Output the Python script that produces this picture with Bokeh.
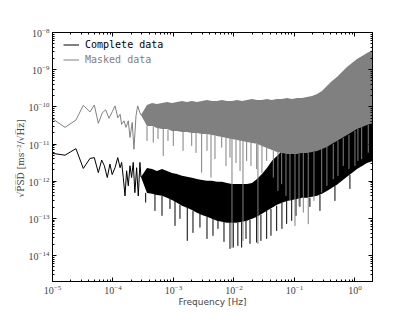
from bokeh.plotting import figure
from bokeh.models import (LogAxis, FixedTicker, Legend, LegendItem)
from bokeh.embed import file_html
from bokeh.resources import INLINE

# ---------------- data ----------------
# sparse low-frequency part, masked data (gray)
f_low_m = [1.0e-5, 1.61e-5, 2.44e-5, 3.23e-5, 4.17e-5, 4.91e-5, 5.72e-5, 6.65e-5,
           7.57e-5, 8.59e-5, 9.73e-5, 1.08e-4, 1.20e-4, 1.31e-4, 1.39e-4, 1.52e-4,
           1.64e-4, 1.79e-4, 1.91e-4, 2.08e-4, 2.22e-4, 2.40e-4, 2.56e-4, 2.79e-4, 2.90e-4]
psd_low_m = [4.8e-11, 2.8e-11, 4.4e-11, 1.1e-10, 7.3e-11, 1.12e-10, 3.6e-11, 6.9e-11,
             8.3e-11, 4.9e-11, 7.4e-11, 1.06e-10, 5.1e-11, 6.3e-11, 3.4e-11, 4.2e-11,
             2.8e-11, 4.2e-11, 1.5e-11, 3.8e-11, 7.2e-12, 5.7e-11, 1.06e-10, 6.9e-11, 6.0e-11]

# sparse low-frequency part, complete data (black)
f_low_c = [1.0e-5, 1.61e-5, 2.44e-5, 3.23e-5, 4.17e-5, 4.91e-5, 5.72e-5, 6.5e-5,
           7.2e-5, 8.05e-5, 8.9e-5, 9.7e-5, 1.08e-4, 1.20e-4, 1.31e-4, 1.39e-4,
           1.48e-4, 1.58e-4, 1.68e-4, 1.79e-4, 1.91e-4, 2.03e-4, 2.16e-4, 2.30e-4,
           2.46e-4, 2.62e-4, 2.79e-4, 2.90e-4]
psd_low_c = [5.6e-12, 5.0e-12, 7.5e-12, 2.2e-12, 4.1e-12, 4.3e-12, 1.7e-12, 3.7e-12,
             2.6e-12, 1.25e-12, 2.9e-12, 1.5e-12, 2.3e-12, 4.3e-12, 2.3e-12, 3.2e-12,
             1.25e-12, 4.0e-13, 1.9e-12, 7.5e-13, 2.6e-12, 1.25e-12, 3.2e-12, 4.9e-13,
             2.3e-12, 4.0e-13, 3.2e-12, 1.3e-12]

# dense part: envelope of the noise band
f_band = [2.90e-4, 3.65e-4, 4.42e-4, 5.33e-4, 6.46e-4, 7.82e-4, 9.45e-4, 1.14e-3,
          1.38e-3, 1.67e-3, 2.02e-3, 2.44e-3, 2.96e-3, 3.58e-3, 4.33e-3, 5.24e-3,
          6.34e-3, 7.66e-3, 9.27e-3, 1.12e-2, 1.36e-2, 1.64e-2, 1.99e-2, 2.40e-2,
          2.90e-2, 3.51e-2, 4.25e-2, 5.14e-2, 6.21e-2, 7.51e-2, 9.09e-2, 0.110,
          0.133, 0.161, 0.195, 0.236, 0.285, 0.344, 0.417, 0.504, 0.609, 0.738,
          0.892, 1.08, 1.31, 1.58, 2.0]
masked_hi = [6.0e-11, 1.12e-10, 1.27e-10, 1.20e-10, 1.27e-10, 1.36e-10, 1.27e-10, 1.36e-10,
             1.44e-10, 1.36e-10, 1.44e-10, 1.36e-10, 1.44e-10, 1.53e-10, 1.44e-10, 1.44e-10,
             1.53e-10, 1.44e-10, 1.44e-10, 1.53e-10, 1.44e-10, 1.53e-10, 1.63e-10, 1.53e-10,
             1.53e-10, 1.63e-10, 1.53e-10, 1.63e-10, 1.63e-10, 1.73e-10, 1.63e-10, 1.73e-10,
             1.73e-10, 1.85e-10, 1.96e-10, 2.22e-10, 2.67e-10, 3.65e-10, 4.97e-10, 6.37e-10,
             8.67e-10, 1.18e-9, 1.51e-9, 1.94e-9, 2.33e-9, 2.81e-9, 3.39e-9]
masked_lo = [6.0e-11, 3.07e-11, 3.07e-11, 2.71e-11, 2.55e-11, 2.55e-11, 2.25e-11, 2.25e-11,
             2.11e-11, 2.11e-11, 1.99e-11, 1.99e-11, 1.87e-11, 1.87e-11, 1.76e-11, 1.65e-11,
             1.55e-11, 1.46e-11, 1.37e-11, 1.29e-11, 1.21e-11, 1.14e-11, 1.07e-11, 1.01e-11,
             8.89e-12, 7.86e-12, 6.94e-12, 6.14e-12, 5.77e-12, 5.42e-12, 5.42e-12, 5.42e-12,
             5.77e-12, 5.77e-12, 6.14e-12, 6.53e-12, 7.38e-12, 8.36e-12, 1.01e-11, 1.21e-11,
             1.46e-11, 1.76e-11, 2.11e-11, 2.55e-11, 2.88e-11, 3.26e-11, 3.69e-11]
complete_hi = [1.3e-12, 2.28e-12, 2.14e-12, 1.89e-12, 2.14e-12, 1.89e-12, 1.67e-12, 1.57e-12,
               1.39e-12, 1.31e-12, 1.23e-12, 1.15e-12, 1.08e-12, 1.02e-12, 1.02e-12, 9.58e-13,
               9.58e-13, 9.0e-13, 8.46e-13, 8.46e-13, 8.46e-13, 8.46e-13, 9.0e-13, 1.15e-12,
               1.57e-12, 2.28e-12, 3.52e-12, 4.79e-12, 6.53e-12, 8.36e-12, 1.01e-11, 1.14e-11,
               1.21e-11, 1.37e-11, 1.55e-11, 1.76e-11, 1.99e-11, 2.25e-11, 2.55e-11, 3.07e-11,
               3.69e-11, 4.45e-11, 5.35e-11, 6.44e-11, 7.76e-11, 9.34e-11, 1.06e-10]
complete_lo = [1.3e-12, 4.84e-13, 4.56e-13, 4.28e-13, 4.03e-13, 3.56e-13, 3.14e-13, 2.61e-13,
               2.17e-13, 1.92e-13, 1.69e-13, 1.41e-13, 1.24e-13, 1.10e-13, 9.70e-14, 8.57e-14,
               8.05e-14, 7.57e-14, 7.57e-14, 7.57e-14, 8.05e-14, 8.57e-14, 9.70e-14, 1.10e-13,
               1.32e-13, 1.59e-13, 1.92e-13, 2.31e-13, 2.61e-13, 2.95e-13, 3.14e-13, 3.34e-13,
               3.56e-13, 3.56e-13, 3.79e-13, 4.03e-13, 4.56e-13, 5.48e-13, 6.61e-13, 7.96e-13,
               1.02e-12, 1.31e-12, 1.67e-12, 2.14e-12, 2.58e-12, 3.10e-12, 3.52e-12]

# individual deep dips reaching below the band
spike_f_m = [3.65e-4, 4.63e-4, 6.77e-4, 9.93e-4, 2.00e-3, 2.92e-3, 4.17e-3, 6.27e-3,
             8.59e-3, 9.27e-3, 1.26e-2, 1.41e-2, 1.62e-2, 2.37e-2, 2.49e-2, 3.47e-2,
             4.47e-2, 6.14e-2, 8.43e-2, 0.102, 0.140, 0.169, 0.282, 0.438, 0.641, 1.0,
             1.29, 1.66,
             5.55e-4, 8.11e-4, 1.44e-3, 2.36e-3, 3.58e-3, 4.85e-3, 7.38e-3, 1.08e-2,
             1.91e-2, 2.90e-2, 5.33e-2, 7.24e-2, 0.119, 0.210, 0.344, 0.524, 0.796, 1.12]
spike_top_m = [3.07e-11, 2.88e-11, 2.55e-11, 2.25e-11, 1.99e-11, 1.87e-11, 1.76e-11, 1.55e-11,
               1.46e-11, 1.46e-11, 1.29e-11, 1.21e-11, 1.21e-11, 1.01e-11, 1.01e-11, 7.86e-12,
               6.53e-12, 5.77e-12, 5.42e-12, 5.42e-12, 5.77e-12, 5.77e-12, 7.38e-12, 1.01e-11,
               1.46e-11, 2.25e-11, 2.88e-11, 3.26e-11,
               2.71e-11, 2.39e-11, 2.11e-11, 1.99e-11, 1.87e-11, 1.65e-11, 1.46e-11, 1.29e-11,
               1.07e-11, 8.89e-12, 6.14e-12, 5.42e-12, 5.42e-12, 6.14e-12, 8.36e-12, 1.21e-11,
               1.76e-11, 2.55e-11]
spike_bot_m = [1.21e-11, 1.09e-11, 4.79e-12, 8.89e-12, 8.89e-12, 1.70e-12, 1.25e-12, 8.0e-12,
               4.31e-12, 1.61e-14, 1.89e-12, 2.48e-14, 3.52e-12, 2.10e-12, 2.06e-14, 3.52e-12,
               1.25e-12, 8.30e-13, 2.95e-13, 6.28e-14, 1.43e-13, 6.98e-14, 4.94e-13, 1.13e-12,
               2.58e-12, 2.58e-12, 3.90e-12, 5.87e-12,
               1.37e-11, 1.21e-11, 6.53e-12, 5.77e-12, 6.53e-12, 3.92e-12, 2.58e-12, 3.10e-12,
               2.58e-12, 1.67e-12, 5.48e-13, 4.03e-13, 2.17e-13, 2.95e-13, 7.48e-13, 1.39e-12,
               2.14e-12, 3.52e-12]

spike_f_c = [3.47e-4, 8.75e-4, 1.28e-3, 1.69e-3, 2.74e-3, 5.44e-3, 8.59e-3, 9.73e-3,
             1.34e-2, 1.84e-2, 2.37e-2, 3.47e-2, 5.08e-2, 7.43e-2, 9.0e-2, 0.123, 0.180,
             4.94e-4, 6.46e-4, 1.06e-3, 2.10e-3, 3.58e-3, 4.50e-3, 6.84e-3, 1.16e-2,
             1.58e-2, 2.79e-2, 4.09e-2, 6.21e-2, 0.106, 0.264, 0.467, 0.826]
spike_top_c = [4.84e-13, 3.34e-13, 2.31e-13, 2.04e-13, 1.32e-13, 9.12e-14, 7.57e-14, 7.57e-14,
               8.05e-14, 9.12e-14, 1.10e-13, 1.59e-13, 2.17e-13, 2.95e-13, 3.14e-13, 3.56e-13,
               3.56e-13,
               4.56e-13, 4.03e-13, 2.95e-13, 1.59e-13, 1.10e-13, 9.70e-14, 8.05e-14, 7.57e-14,
               8.57e-14, 1.24e-13, 1.80e-13, 2.61e-13, 3.34e-13, 4.28e-13, 7.48e-13, 1.48e-12]
spike_bot_c = [2.66e-13, 1.80e-13, 9.70e-14, 2.48e-14, 5.66e-14, 5.22e-14, 1.51e-14, 1.64e-14,
               1.64e-14, 2.06e-14, 2.24e-14, 2.81e-14, 4.61e-14, 7.11e-14, 8.57e-14, 2.04e-13,
               2.04e-13,
               1.59e-13, 1.17e-13, 6.28e-14, 4.07e-14, 2.81e-14, 3.39e-14, 2.33e-14, 1.82e-14,
               2.81e-14, 2.48e-14, 3.39e-14, 5.22e-14, 1.17e-13, 1.59e-13, 2.95e-13, 6.21e-13]

x_ticks = [1e-5, 1e-4, 1e-3, 1e-2, 1e-1, 1e0]
y_ticks = [1e-14, 1e-13, 1e-12, 1e-11, 1e-10, 1e-9, 1e-8]

GRAY = "#808080"

# ---------------- figure ----------------
p = figure(x_axis_type="log", y_axis_type="log",
           x_range=(1e-5, 1.95), y_range=(2e-15, 1e-8),
           frame_width=320, frame_height=249,
           min_border_left=52, min_border_right=43,
           min_border_top=32, min_border_bottom=32,
           output_backend="svg", toolbar_location=None)
p.xgrid.visible = False
p.ygrid.visible = False
p.outline_line_color = "black"

x_minor = [k * t for t in x_ticks for k in range(2, 10)]
y_minor = [k * t for t in [1e-15] + y_ticks for k in range(2, 10)]
xt = FixedTicker(ticks=x_ticks, minor_ticks=x_minor)
yt = FixedTicker(ticks=y_ticks, minor_ticks=y_minor)

def style(ax, labels=True):
    ax.major_tick_in = 4
    ax.major_tick_out = 0
    ax.minor_tick_in = 2
    ax.minor_tick_out = 0
    ax.axis_line_color = "black"
    ax.major_tick_line_color = "black"
    ax.minor_tick_line_color = "black"
    if labels:
        ax.major_label_text_font = "Liberation Serif"
        ax.major_label_text_font_size = "10px"
        ax.major_label_standoff = 3
    else:
        ax.major_label_text_font_size = "2px"
        ax.major_label_text_alpha = 0
        ax.major_label_standoff = 0

p.xaxis.ticker = xt
p.yaxis.ticker = yt
style(p.xaxis[0])
style(p.yaxis[0])
p.xaxis.axis_label = "Frequency [Hz]"
p.xaxis.axis_label_text_font = "DejaVu Sans"
p.xaxis.axis_label_text_font_size = "9px"
p.xaxis.axis_label_text_font_style = "normal"
p.xaxis.axis_label_standoff = 0
p.yaxis.axis_label = "\u221aP\u0305S\u0305D\u0305  [ms\u207b\u00b2/\u221aH\u0305z\u0305]"
p.yaxis.axis_label_text_font = "DejaVu Serif"
p.yaxis.axis_label_text_font_size = "9px"
p.yaxis.axis_label_text_font_style = "normal"
p.yaxis.axis_label_standoff = 0

top = LogAxis(ticker=FixedTicker(ticks=x_ticks, minor_ticks=x_minor))
style(top, labels=False)
p.add_layout(top, "above")
right = LogAxis(ticker=FixedTicker(ticks=y_ticks, minor_ticks=y_minor))
style(right, labels=False)
p.add_layout(right, "right")

# complete data (black) first
r_c = p.line(f_low_c, psd_low_c, line_color="black", line_width=1)
p.varea(x=f_band, y1=complete_lo, y2=complete_hi, fill_color="black")
p.segment(x0=spike_f_c, y0=spike_top_c, x1=spike_f_c, y1=spike_bot_c,
          line_color="black", line_width=1)

# masked data (gray) on top
r_m = p.line(f_low_m, psd_low_m, line_color=GRAY, line_width=1)
p.varea(x=f_band, y1=masked_lo, y2=masked_hi, fill_color=GRAY)
p.segment(x0=spike_f_m, y0=spike_top_m, x1=spike_f_m, y1=spike_bot_m,
          line_color=GRAY, line_width=1)

def make_legend(label, rend, color, y):
    lg = Legend(items=[LegendItem(label=label, renderers=[rend])],
                location=(11, y), glyph_width=16, glyph_height=15,
                label_height=15, label_standoff=6, padding=0, margin=0,
                spacing=0, border_line_alpha=0, background_fill_alpha=0,
                label_text_font="DejaVu Sans Mono", label_text_font_size="10px",
                label_text_color=color)
    p.add_layout(lg)

make_legend("Complete data", r_c, "black", 229)
make_legend("Masked data", r_m, GRAY, 214)

open("out.html", "w").write(file_html(p, INLINE))
